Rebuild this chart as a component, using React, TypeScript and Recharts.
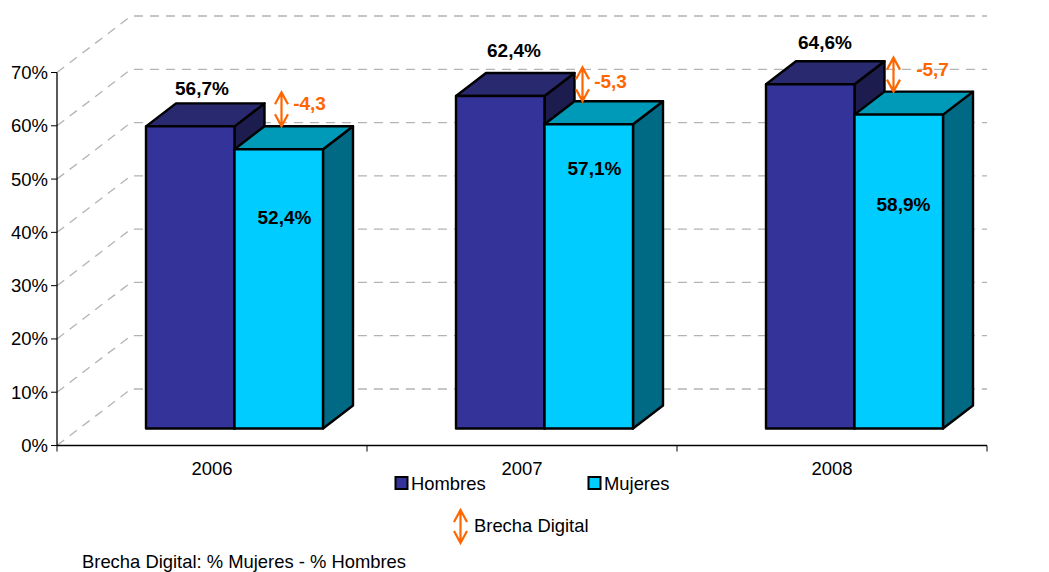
import { Bar, BarChart, CartesianGrid, XAxis, YAxis } from "recharts"

const years = ["2006", "2007", "2008"]
const hombres = [56.7, 62.4, 64.6]
const mujeres = [52.4, 57.1, 58.9]
const brecha = ["-4,3", "-5,3", "-5,7"]
const yTicks = [0, 10, 20, 30, 40, 50, 60, 70]

const data = years.map((year, i) => ({ year, hombres: hombres[i], mujeres: mujeres[i] }))

const FONT = "'Liberation Sans', Arial, sans-serif"
const ORANGE = "#ff6600"
const WIDTH = 1049
const HEIGHT = 572
const LEFT = 57
const RIGHT = 987
const TOP = 72.5
const BOTTOM = 445.5
const HALF_BAND = (RIGHT - LEFT) / (2 * years.length)

// profundidad de la pared del fondo y de las barras
const WALL_DX = 74
const WALL_DY = -56.5
const FRONT_DX = 22
const FRONT_DY = -17
const BAR_DX = 30
const BAR_DY = -23

// etiquetas colocadas a mano, como en el original
const hombresLabel = [[56, -31], [58, -39], [59, -35]]
const mujeresLabel = [[50, 75], [50, 51], [49, 96]]
const arrowX = [47, 38, 39]
const gapText = [[75, -16], [66, -13], [78, -16]]

const Arrow = ({ x, y1, y2 }: { x: number; y1: number; y2: number }) => (
  <path
    d={`M${x} ${y1} V${y2} M${x - 6.5} ${y1 + 12} L${x} ${y1} L${x + 6.5} ${y1 + 12} M${x - 6.5} ${y2 - 12} L${x} ${y2} L${x + 6.5} ${y2 - 12}`}
    fill="none"
    stroke={ORANGE}
    strokeWidth={2.2}
  />
)

const box = (x: number, y: number, w: number, h: number, front: string, top: string, side: string) => (
  <g stroke="#000" strokeWidth={2.4} strokeLinejoin="round">
    <path d={`M${x + w} ${y} l${BAR_DX} ${BAR_DY} v${h} l${-BAR_DX} ${-BAR_DY} Z`} fill={side} />
    <path d={`M${x} ${y} l${BAR_DX} ${BAR_DY} h${w} l${-BAR_DX} ${-BAR_DY} Z`} fill={top} />
    <rect x={x} y={y} width={w} height={h} fill={front} />
  </g>
)

const HombresBar = (props: any) => {
  const { x, y, width, height, index } = props
  const bx = x + FRONT_DX
  const by = y + FRONT_DY
  const [lx, ly] = hombresLabel[index]
  return (
    <g>
      {box(bx, by, width, height, "#333399", "#29296f", "#1c1c4e")}
      <text x={bx + lx} y={by + ly} textAnchor="middle" fontFamily={FONT} fontSize={19} fontWeight="bold" fill="#000">
        {hombres[index].toFixed(1).replace(".", ",")}%
      </text>
    </g>
  )
}

const MujeresBar = (props: any) => {
  const { x, y, width, height, index } = props
  const bx = x + FRONT_DX
  const by = y + FRONT_DY
  const [lx, ly] = mujeresLabel[index]
  const [tx, ty] = gapText[index]
  const arrowBottom = by + BAR_DY
  return (
    <g>
      {box(bx, by, width, height, "#00ccff", "#009ab9", "#006a85")}
      <text x={bx + lx} y={by + ly} textAnchor="middle" fontFamily={FONT} fontSize={19} fontWeight="bold" fill="#000">
        {mujeres[index].toFixed(1).replace(".", ",")}%
      </text>
      <Arrow x={bx + arrowX[index]} y1={arrowBottom - 34} y2={arrowBottom} />
      <text x={bx + tx} y={arrowBottom + ty} textAnchor="middle" fontFamily={FONT} fontSize={19} fontWeight="bold" fill={ORANGE}>
        {brecha[index]}
      </text>
    </g>
  )
}

const GridLine = (props: any) => {
  const { x1, y1, x2 } = props
  return (
    <path
      d={`M${x1} ${y1} L${x1 + WALL_DX} ${y1 + WALL_DY} H${x2}`}
      fill="none"
      stroke="#b3b3b3"
      strokeWidth={1.3}
      strokeDasharray="9 7"
    />
  )
}

const YearTick = (props: any) => {
  const { x, payload, index } = props
  const axisY = BOTTOM
  return (
    <g>
      <line x1={x - HALF_BAND} x2={x - HALF_BAND} y1={axisY} y2={axisY + 6} stroke="#000" strokeWidth={1} />
      {index === years.length - 1 && <line x1={x + HALF_BAND} x2={x + HALF_BAND} y1={axisY} y2={axisY + 6} stroke="#000" strokeWidth={1} />}
      <text x={x} y={axisY + 29} textAnchor="middle" fontFamily={FONT} fontSize={18.5} fill="#000">
        {payload.value}
      </text>
    </g>
  )
}

export default function App() {
  return (
    <div style={{ position: "absolute", left: 0, top: 0, width: WIDTH, height: HEIGHT }}>
      <BarChart
        width={WIDTH}
        height={HEIGHT}
        data={data}
        barSize={88.5}
        barGap={0}
        margin={{ top: TOP, right: WIDTH - RIGHT, bottom: HEIGHT - BOTTOM - 30, left: LEFT - 50 }}
      >
        <CartesianGrid vertical={false} horizontal={GridLine} />
        <XAxis
          dataKey="year"
          height={30}
          tickLine={false}
          axisLine={{ stroke: "#000", strokeWidth: 1.3 }}
          tick={YearTick}
          interval={0}
        />
        <YAxis
          width={50}
          domain={[0, 70]}
          ticks={yTicks}
          interval={0}
          tickFormatter={(v) => `${v}%`}
          tickSize={6}
          tickMargin={3}
          tickLine={{ stroke: "#000" }}
          axisLine={{ stroke: "#000", strokeWidth: 1.3 }}
          tick={{ fontFamily: FONT, fontSize: 18.5, fill: "#000" }}
        />
        <Bar dataKey="hombres" shape={HombresBar} isAnimationActive={false} />
        <Bar dataKey="mujeres" shape={MujeresBar} isAnimationActive={false} />
      </BarChart>
      <svg width={WIDTH} height={HEIGHT} style={{ position: "absolute", left: 0, top: 0, pointerEvents: "none" }}>
        <g fontFamily={FONT} fontSize={18.4} fill="#000">
          <rect x={395.5} y={477} width={12} height={12} fill="#333399" stroke="#000" strokeWidth={2} />
          <text x={411} y={490}>Hombres</text>
          <rect x={588.5} y={477} width={12} height={12} fill="#00ccff" stroke="#000" strokeWidth={2} />
          <text x={604} y={490}>Mujeres</text>
          <Arrow x={460.5} y1={510} y2={543} />
          <text x={474} y={532}>Brecha Digital</text>
          <text x={82} y={568}>Brecha Digital: % Mujeres - % Hombres</text>
        </g>
      </svg>
    </div>
  )
}
